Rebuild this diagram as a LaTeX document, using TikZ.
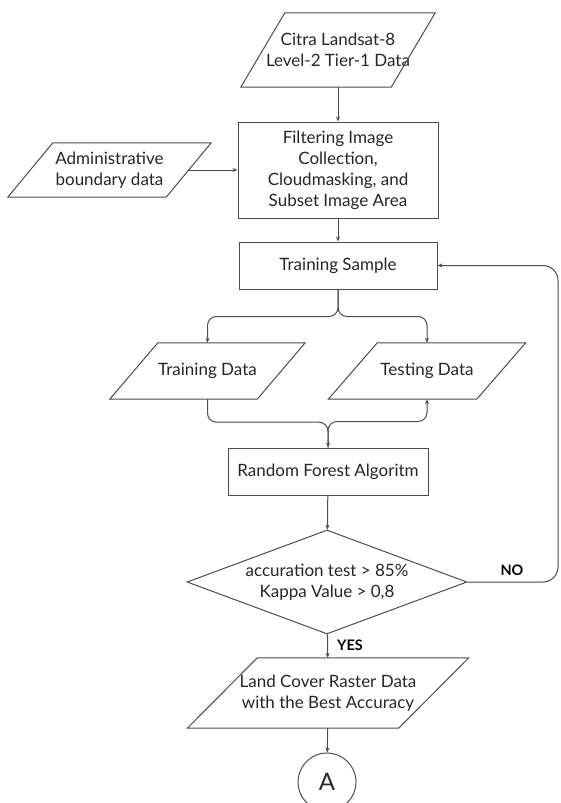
\documentclass[tikz,border=0pt]{standalone}
\usepackage{fontspec}
\setmainfont{Lato}
\usetikzlibrary{shapes.geometric,arrows.meta}

\tikzset{
  line/.style={draw=black!70, line width=1pt},
  box/.style={line, fill=white, align=center, inner sep=0pt},
  data/.style={align=center, inner sep=0pt},
  arr/.style={line, -{Stealth[length=5pt,width=4pt]}},
  lbl/.style={font=\fontsize{14.5}{16}\selectfont\bfseries, text=black}
}
% parallelogram round a data node: #1 node, #2 half of the slant
\newcommand{\datashape}[2]{\draw[line] ([xshift=#2]#1.north west) -- ([xshift=#2]#1.north east) -- ([xshift=-#2]#1.south east) -- ([xshift=-#2]#1.south west) -- cycle;}

\begin{document}
\begin{tikzpicture}[x=1pt,y=-1pt,
  every node/.append style={font=\fontsize{17}{21}\selectfont, text=black!85}]
\clip (0,0) rectangle (560,803);

\node[data, minimum width=150pt, minimum height=74pt] (citra) at (338,50) {Citra Landsat-8\\Level-2 Tier-1 Data};
\node[data, minimum width=158pt, minimum height=54pt] (admin) at (109.5,170) {Administrative\\boundary data};
\node[box, minimum width=200pt, minimum height=96pt] (filter) at (338,170) {Filtering Image\\Collection,\\Cloudmasking, and\\Subset Image Area};
\node[box, minimum width=198pt, minimum height=47pt] (sample) at (338,265.5) {Training Sample};
\node[data, minimum width=147pt, minimum height=56pt] (train) at (207.5,371) {Training Data};
\node[data, minimum width=148pt, minimum height=56pt] (test) at (427,371) {Testing Data};
\node[box, minimum width=200pt, minimum height=47pt] (forest) at (328,471.5) {Random Forest Algoritm};
\node[box, diamond, aspect=2.7, inner sep=-8pt, minimum width=280pt, minimum height=104pt] (check) at (327,582) {accuration test > 85\%\\Kappa Value > 0,8};
\node[data, minimum width=211pt, minimum height=70pt] (land) at (328,693) {Land Cover Raster Data\\with the Best Accuracy};
\node[box, circle, minimum size=58pt, font=\fontsize{24}{24}\selectfont] (conA) at (327,782) {A};

\datashape{citra}{22pt}
\datashape{admin}{22.5pt}
\datashape{train}{24pt}
\datashape{test}{24.5pt}
\datashape{land}{35pt}

\coordinate (loop) at (558,420);

\draw[arr] (citra) -- (filter);
\draw[arr] (admin) -- (filter);
\draw[arr] (filter) -- (sample);
\draw[arr, rounded corners=9pt] (sample.south) -- ++(0,27) -| (train.north);
\draw[arr, rounded corners=9pt] (sample.south) -- ++(0,27) -| (test.north);
\draw[arr, rounded corners=9pt] (train.south) -- ++(0,23) -| (forest.north);
\draw[arr, rounded corners=9pt] (forest.north) -- ++(0,-26) -| (test.south);
\draw[arr] (forest) -- (check);
\draw[arr, rounded corners=15pt] (check.east) -| (loop) |- (sample.east);
\node[lbl] (no) at (512,570) {NO};
\draw[arr] (check) -- (land);
\node[lbl] (yes) at (350,645) {YES};
\draw[arr] (land) -- (conA);
\end{tikzpicture}
\end{document}
